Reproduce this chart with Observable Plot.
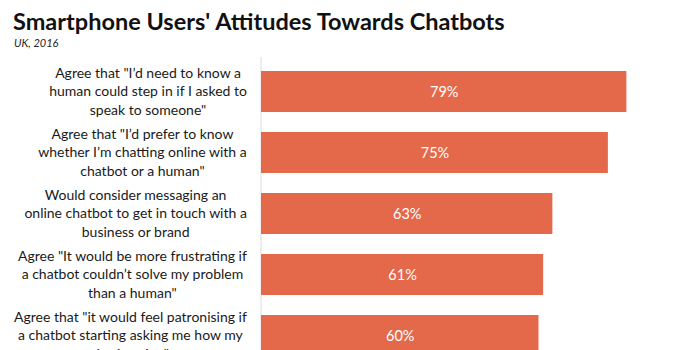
<!DOCTYPE html>
<html>
<head>
<meta charset="utf-8">
<script src="https://cdn.jsdelivr.net/npm/d3@7"></script>
<script src="https://cdn.jsdelivr.net/npm/@observablehq/plot@0.6"></script>
<style>
  html, body { margin: 0; padding: 0; background: #fff; }
  #wrap { position: relative; width: 700px; height: 350px; overflow: hidden; font-family: Lato, "Open Sans", sans-serif; }
  #title { position: absolute; left: 13px; top: 8px; font-size: 23.5px; font-weight: 700; color: #111; line-height: 26px; white-space: nowrap; }
  #subtitle { position: absolute; left: 14px; top: 36px; font-size: 11px; font-style: italic; color: #222; line-height: 14px; }
  #chart { position: absolute; left: 0; top: 57px; }
</style>
</head>
<body>
<div id="wrap">
  <div id="title">Smartphone Users' Attitudes Towards Chatbots</div>
  <div id="subtitle">UK, 2016</div>
  <div id="chart"></div>
</div>
<script>
const categories = [
  "Agree that \"I’d need to know a\nhuman could step in if I asked to\nspeak to someone\"",
  "Agree that \"I’d prefer to know\nwhether I’m chatting online with a\nchatbot or a human\"",
  "Would consider messaging an\nonline chatbot to get in touch with a\nbusiness or brand",
  "Agree \"It would be more frustrating if\na chatbot couldn’t solve my problem\nthan a human\"",
  "Agree that \"it would feel patronising if\na chatbot starting asking me how my\nday is going\""
];
const values = [79, 75, 63, 61, 60];
const valueLabels = ["79%", "75%", "63%", "61%", "60%"];

const data = categories.map((c, i) => ({category: c, value: values[i], label: valueLabels[i]}));

const labelFont = "14px Lato";
const ctx = document.createElement("canvas").getContext("2d");
ctx.font = labelFont;
const blockWidth = c => Math.max(...c.split("\n").map(l => ctx.measureText(l).width));
const gap = 14.5;

const labelMarks = data.map(d => Plot.text([d], {
  y: "category", text: "category", frameAnchor: "left",
  textAnchor: "middle", dx: -(gap + blockWidth(d.category) / 2), dy: -1.5,
  fontSize: 14, lineHeight: 1.31, fill: "#1a1a1a"
}));

const chart = Plot.plot({
  width: 700,
  height: 312,
  marginLeft: 261,
  marginRight: 69,
  marginTop: 0,
  marginBottom: 0,
  style: {fontFamily: "Lato, 'Open Sans', sans-serif", background: "#fff"},
  x: {domain: [0, 80], axis: null},
  y: {domain: categories, paddingInner: 0.333, paddingOuter: 0.206, axis: null},
  marks: [
    Plot.ruleX([0], {stroke: "#dcdcdc", strokeWidth: 1, dx: -0.5}),
    Plot.barX(data, {x: "value", y: "category", fill: "#E4694B"}),
    Plot.text(data, {
      x: d => d.value / 2, y: "category", text: "label",
      fill: "#fff", fontSize: 14.5
    }),
    ...labelMarks
  ]
});
document.getElementById("chart").appendChild(chart);
</script>
</body>
</html>
